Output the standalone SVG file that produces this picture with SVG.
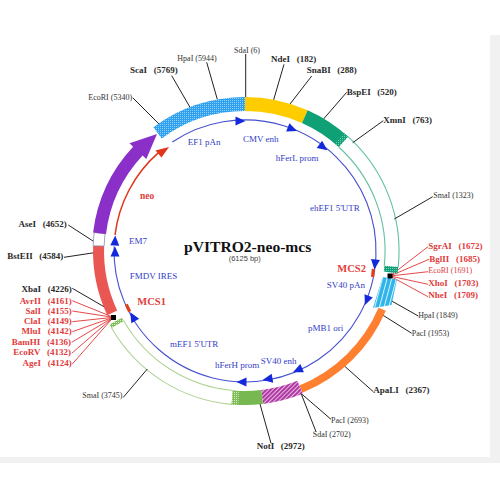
<svg xmlns="http://www.w3.org/2000/svg" width="500" height="500" viewBox="0 0 500 500">
<style>
text{font-family:"Liberation Serif","Times New Roman",serif}
.e{font-size:9px;font-weight:bold;fill:#2a2a2a;word-spacing:4.4px}
.r{font-size:9px;font-weight:bold;fill:#e23c3c;word-spacing:4.4px}
.s{font-size:8px;fill:#333}
.rs{font-size:8px;fill:#e23c3c}
.f{font-size:9px;fill:#3340c4}
.m{font-size:10.5px;font-weight:bold;fill:#e2403c}
.k{fill:none;stroke:#222;stroke-width:1}
.q{fill:none;stroke:#e23434;stroke-width:.9}
.thinT{fill:none;stroke:#62c0a2;stroke-width:1.1}
.thinG{fill:none;stroke:#b2d296;stroke-width:1.1}
.ah{fill:#1428dc}
.bar{fill:#e0401c}
</style>
<defs>
<pattern id="hb" width="2" height="2" patternUnits="userSpaceOnUse"><rect width="2" height="2" fill="#2f9ff0"/><rect width="1" height="1" fill="#8fd0f8"/></pattern>
<pattern id="hs" width="4.5" height="4.5" patternUnits="userSpaceOnUse" patternTransform="rotate(15)"><rect width="4.5" height="4.5" fill="#2fb4ea"/><rect width="1" height="4.5" fill="#d8f2fc"/></pattern>
<pattern id="hp" width="3" height="3" patternUnits="userSpaceOnUse" patternTransform="rotate(45)"><rect width="3" height="3" fill="#b03aa4"/><rect width="1" height="3" fill="#e8b8e0"/></pattern>
<pattern id="hg" width="2" height="2" patternUnits="userSpaceOnUse"><rect width="2" height="2" fill="#12a07a"/><rect width="1" height="1" fill="#70d0b0"/></pattern>
<pattern id="hl" width="2" height="2" patternUnits="userSpaceOnUse"><rect width="2" height="2" fill="#80bc58"/><rect width="1" height="1" fill="#d8eec8"/></pattern>
<polygon id="tri" class="ah" points="5.5,0 -4.5,-4.5 -4.5,4.5"/>
<rect id="mk" class="bar" x="-4" y="-1.6" width="8" height="3.2"/>
</defs>
<rect width="500" height="500" fill="#fff"/>
<path d="M490 35H500V463H0V457H490Z" fill="#f1f1f1"/>

<g id="backbone">
<path class="thinT" d="M348 136.6A154 154 0 0 1 398.2 267.1M338.7 147A140 140 0 0 1 384.3 265.7"/>
<path class="thinG" d="M231.6 404.4A154 154 0 0 1 111.6 328M232.8 390.5A140 140 0 0 1 123.8 321"/>
</g>

<g id="connectors">
<path class="k" d="M132.7 97.7L159 124M171.7 75.7L190 107.3M206.7 62.3L217.3 99.3M245.7 54V98M284 64.3L273.3 101M311.7 76L289.3 105M346.7 92.3L323.3 119.3M383.3 120.7L352.7 142.7M432.7 196.7L394.3 219M418.3 316L391.7 301M411.7 333.3L381 314M373.3 391.7L343.3 365M331 419.3L301.7 394M316 431.7L301 393.3M271 443.3L260 404M123.3 397.3L147.3 369M68.3 225L95 242.3M64 257.3L94.3 252.7M72.3 288.3L105 307.3"/>
<path class="q" d="M390 276L428 246.7M390 276L429 259.3M390 276L428 271.7M390 276L428 284.3M390 276L428 296.7M113.3 317.3L72.3 300.7M113.3 317.3L72.3 311M113.3 317.3L72.3 321.7M113.3 317.3L72.3 331.7M113.3 317.3L71.7 342.3M113.3 317.3L71.7 353.3M113.3 317.3L72.3 364"/>
</g>

<g id="inner-arcs">
<path d="M172.3 142A131 131 0 1 1 114.1 246.4" fill="none" stroke="#4450cc" stroke-width="1.1"/>
<path d="M115 235A131 131 0 0 1 158.2 152.9" fill="none" stroke="#e2341a" stroke-width="1.5"/>
</g>

<g id="seg-EF1pAn"><path fill="url(#hb)" d="M153.4 127.2A154 154 0 0 1 245 97V111A140 140 0 0 0 161.7 138.4Z"/></g>
<g id="seg-CMV"><path fill="#ffcc00" d="M245 97A154 154 0 0 1 307.7 110.3L302 123A140 140 0 0 0 245 111Z"/></g>
<g id="seg-hFerL"><path fill="#10a076" d="M307.7 110.3A154 154 0 0 1 348 136.6L338.7 147A140 140 0 0 0 302 123Z"/><path fill="url(#hg)" d="M344 133L348 136.6L338.7 147L335 143.8Z"/></g>
<g id="seg-small-right"><path fill="url(#hg)" d="M398.2 267.1L397.6 273.5L383.8 271.5L384.3 265.7Z"/></g>
<g id="seg-SV40pAn"><path fill="url(#hs)" d="M382.5 277L397 279.5L391.5 305L373 308Z"/></g>
<g id="seg-pMB1"><path fill="#ff7f30" d="M385.8 310.8A153 153 0 0 1 302.4 392.8L299.4 385.4A145 145 0 0 0 378.5 307.7Z"/></g>
<g id="seg-SV40enh"><path fill="url(#hp)" d="M302.7 393.8A154 154 0 0 1 263 403.9L261.3 390A140 140 0 0 0 297.4 380.8Z"/></g>
<g id="seg-hFerH"><path fill="#78b850" d="M263 403.9A154 154 0 0 1 231.6 404.4L232.8 390.5A140 140 0 0 0 261.3 390Z"/><path fill="url(#hl)" d="M238.3 404.8L231.6 404.4L232.8 390.5L238.9 390.9Z"/></g>
<g id="seg-small-left"><path fill="url(#hl)" d="M111.6 328L109.6 324.5L121.9 317.8L123.8 321Z"/></g>
<g id="seg-MCS1"><path fill="#ea5752" d="M107.3 315.3A152 152 0 0 1 93.1 245.7L104.1 246.1A141 141 0 0 0 117.2 310.6Z"/></g>
<g id="seg-gap"><path fill="#fff" stroke="#8c8cb4" stroke-width=".8" d="M93.1 245.7L94.1 232.5L105 233.8L104.1 246.1Z"/></g>
<g id="seg-neo"><path fill="#8a2fc8" d="M93.1 232.4A153 153 0 0 1 133.1 146.7L129.5 143.2L157 134L146.3 158.9L142.6 155.5A140 140 0 0 0 106 233.9Z"/></g>

<g id="arrowheads">
<use href="#tri" transform="translate(240,121)"/>
<use href="#tri" transform="translate(292,129) rotate(21)"/>
<use href="#tri" transform="translate(323,147) rotate(37)"/>
<use href="#tri" transform="translate(375,264) rotate(96)"/>
<use href="#tri" transform="translate(367,300) rotate(112)"/>
<use href="#tri" transform="translate(298,370) rotate(156)"/>
<use href="#tri" transform="translate(268,379) rotate(170)"/>
<use href="#tri" transform="translate(242,382) rotate(181)"/>
<use href="#tri" transform="translate(133,317) rotate(240)"/>
<use href="#tri" transform="translate(115,252) rotate(270)"/>
<use href="#tri" transform="translate(115,241) rotate(273)"/>
<polygon fill="#e2341a" points="169,147 155.5,150.5 161.5,157.5"/>
<use href="#mk" transform="translate(373,273) rotate(96)"/>
<use href="#mk" transform="translate(128,308) rotate(245)"/>
<rect x="387.5" y="273.5" width="5" height="5" fill="#000"/>
<rect x="111" y="315" width="5" height="5" fill="#000"/>
</g>

<g id="title">
<text x="184" y="251.7" font-size="15.6" font-weight="bold" fill="#111">pVITRO2-neo-mcs</text>
<text x="228.7" y="261" font-size="7.5" fill="#444" style="font-family:'Liberation Sans',Arial,sans-serif">(6125 bp)</text>
</g>

<g id="feature-labels">
<text class="f" x="187.7" y="145">EF1 pAn</text>
<text class="f" x="243" y="141.7">CMV enh</text>
<text class="f" x="275.7" y="160.7">hFerL prom</text>
<text class="f" x="310" y="210.7">ehEF1 5'UTR</text>
<text class="f" x="326.7" y="287.7">SV40 pAn</text>
<text class="f" x="308" y="330.7">pMB1 ori</text>
<text class="f" x="260.7" y="363.7">SV40 enh</text>
<text class="f" x="215" y="367.7">hFerH prom</text>
<text class="f" x="170" y="346.7">mEF1 5'UTR</text>
<text class="f" x="129.7" y="279">FMDV IRES</text>
<text class="f" x="129" y="244">EM7</text>
<text class="m" x="140" y="199.3" style="font-size:9.5px">neo</text>
<text class="m" x="337.3" y="271.7">MCS2</text>
<text class="m" x="137.3" y="305">MCS1</text>
</g>

<g id="site-labels">
<text class="s" x="88.3" y="100">EcoRI (5340)</text>
<text class="e" x="130" y="72.7">ScaI (5769)</text>
<text class="s" x="177.3" y="60.7">HpaI (5944)</text>
<text class="s" x="234" y="52.7">SdaI (6)</text>
<text class="e" x="271" y="62.3">NdeI (182)</text>
<text class="e" x="306.7" y="72.7">SnaBI (288)</text>
<text class="e" x="346.7" y="95">BspEI (520)</text>
<text class="e" x="383.3" y="123.3">XmnI (763)</text>
<text class="s" x="433.3" y="198.3">SmaI (1323)</text>
<text class="r" x="428.3" y="249.3">SgrAI (1672)</text>
<text class="r" x="429.3" y="261.7">BglII (1685)</text>
<text class="rs" x="428.3" y="273.3">EcoRI (1691)</text>
<text class="r" x="428.3" y="285.7">XhoI (1703)</text>
<text class="r" x="428.3" y="298.3">NheI (1709)</text>
<text class="s" x="418.3" y="318.3">HpaI (1849)</text>
<text class="s" x="411.7" y="335.7">PacI (1953)</text>
<text class="e" x="373.3" y="392.7">ApaLI (2367)</text>
<text class="s" x="331" y="423.3">PacI (2693)</text>
<text class="s" x="312.7" y="437.3">SdaI (2702)</text>
<text class="e" x="256.7" y="449.3">NotI (2972)</text>
<text class="s" x="82.3" y="398.3">SmaI (3745)</text>
<g text-anchor="end">
<text class="e" x="66.7" y="227.3">AseI (4652)</text>
<text class="e" x="63.3" y="259.3">BstEII (4584)</text>
<text class="e" x="71.7" y="291.7">XbaI (4226)</text>
<text class="r" x="71.7" y="304">AvrII (4161)</text>
<text class="r" x="71.7" y="314.3">SalI (4155)</text>
<text class="r" x="71.7" y="324.3">ClaI (4149)</text>
<text class="r" x="71.7" y="334">MluI (4142)</text>
<text class="r" x="71" y="344.7">BamHI (4136)</text>
<text class="r" x="71" y="355.3">EcoRV (4132)</text>
<text class="r" x="71.7" y="365.7">AgeI (4124)</text>
</g>
</g>
</svg>
